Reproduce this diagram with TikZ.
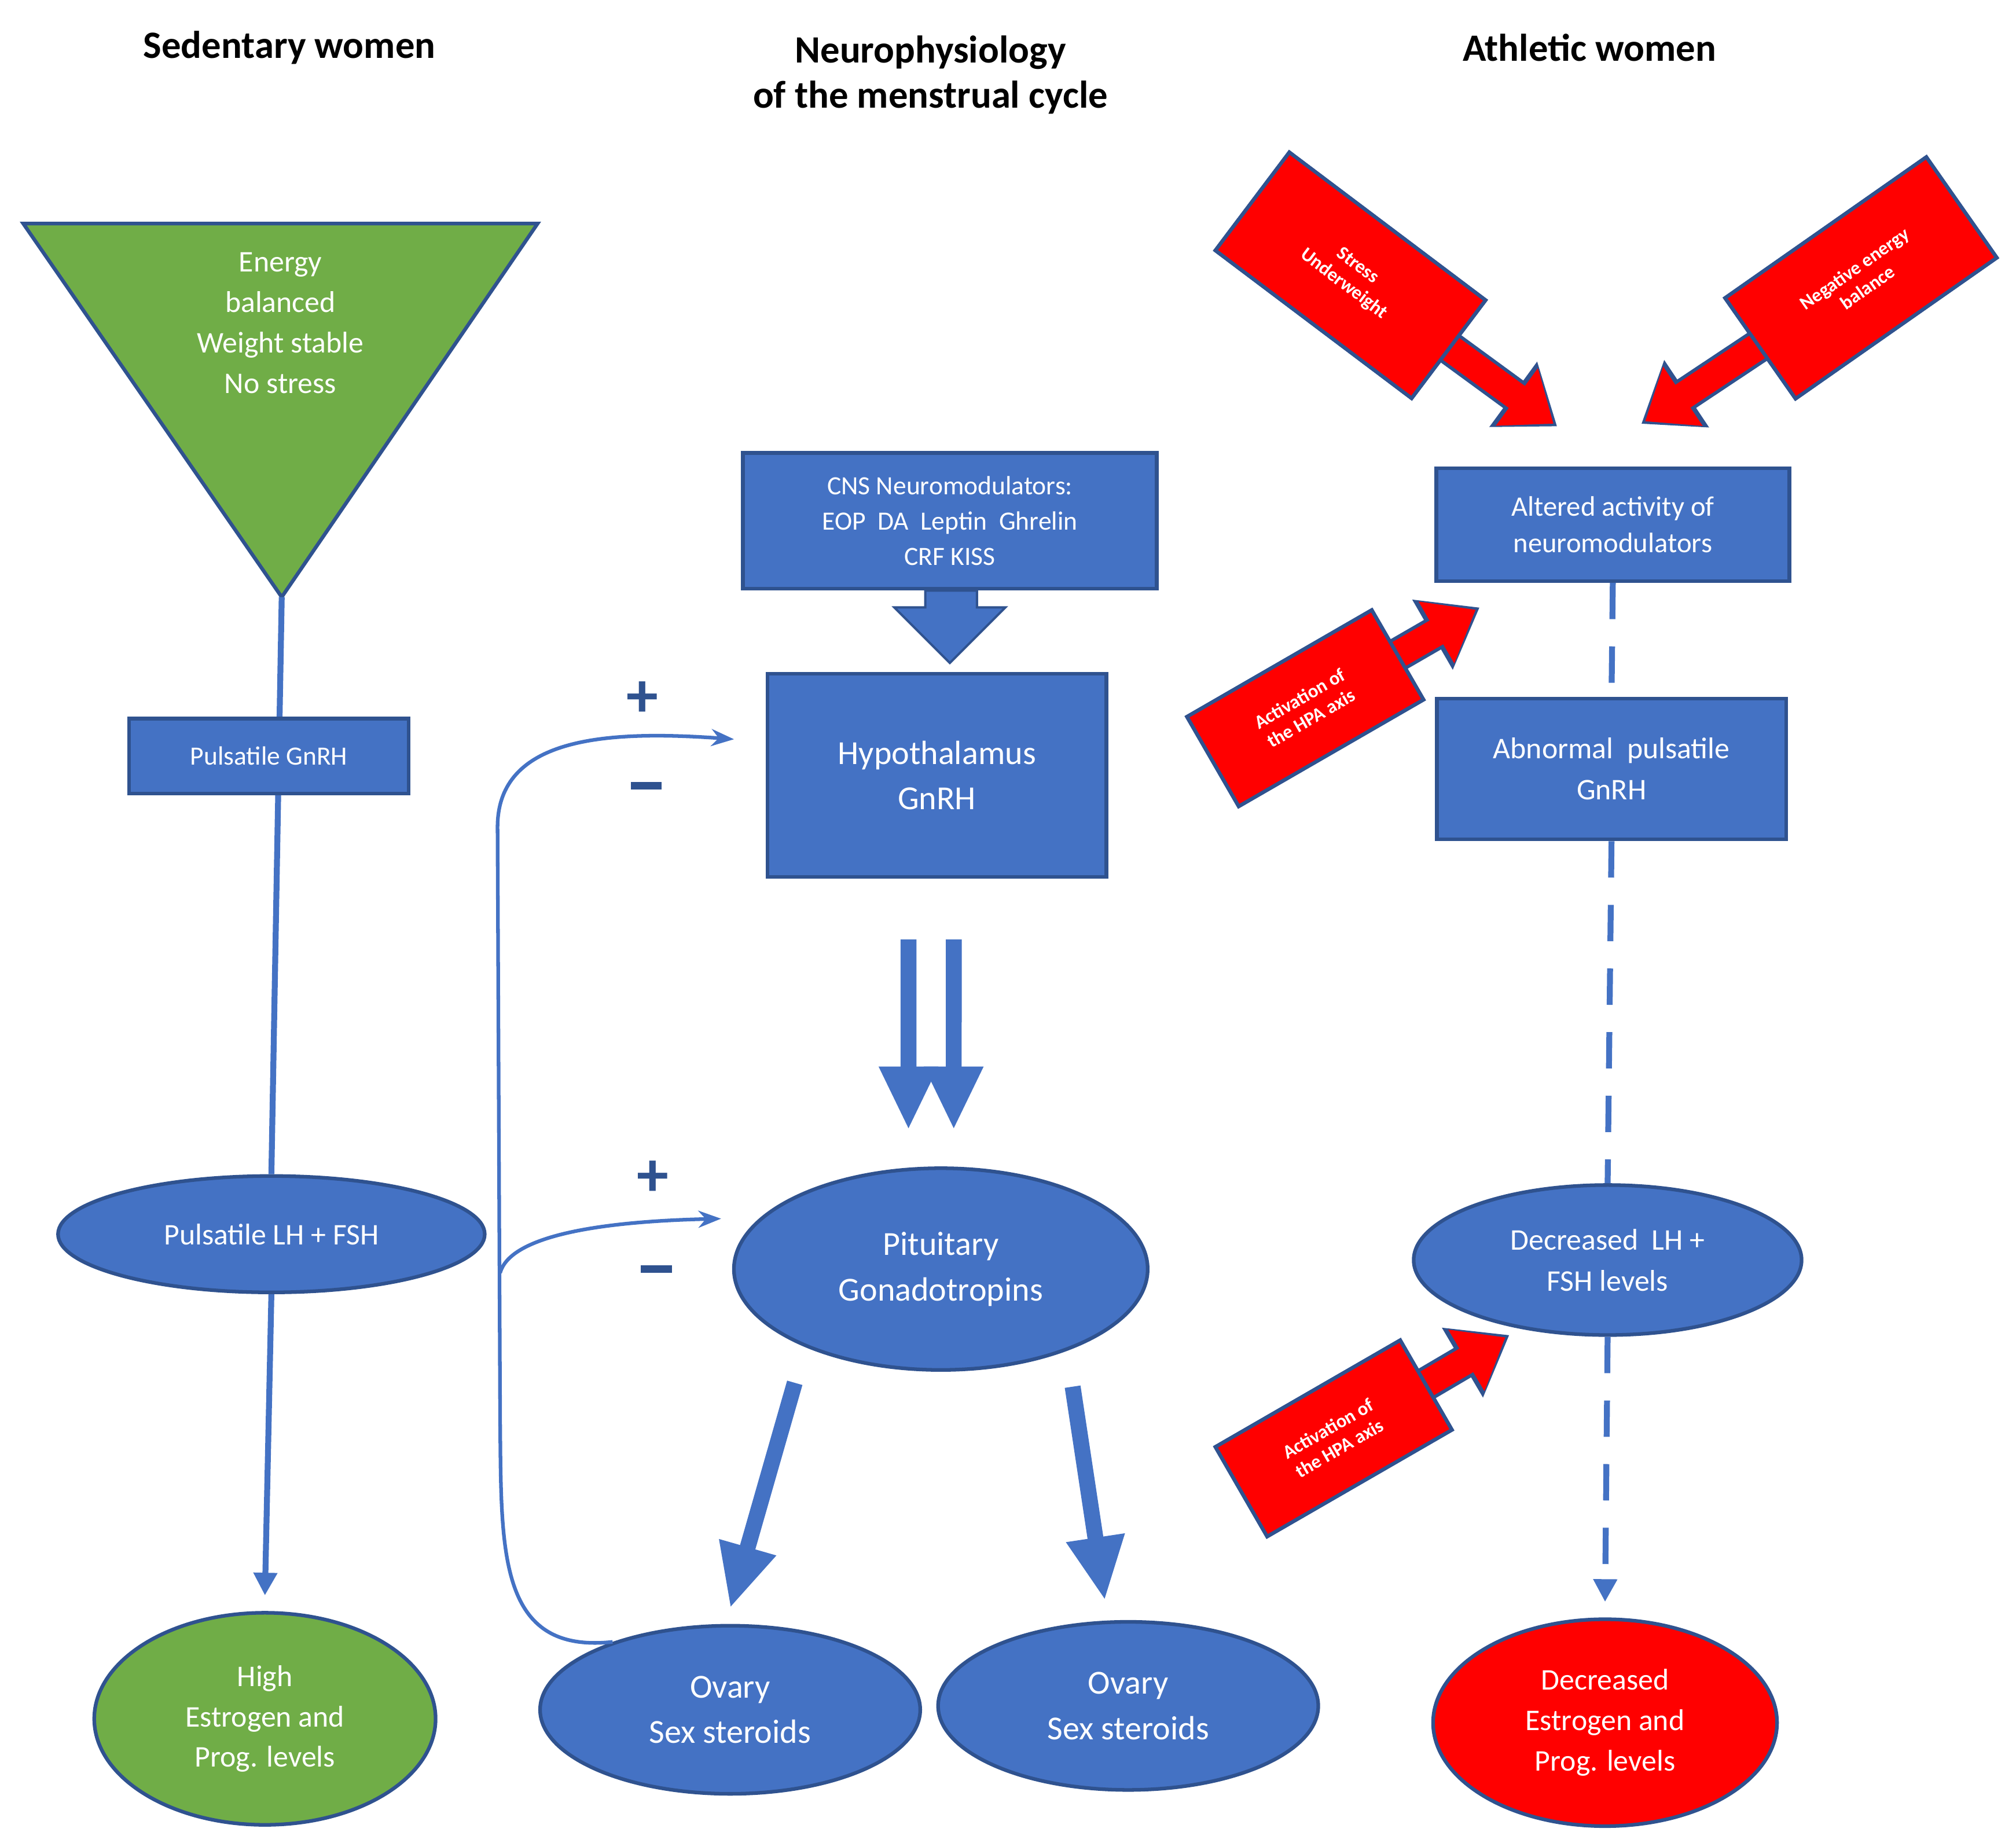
\documentclass[tikz,border=0pt]{standalone}
\usepackage{fontspec}
\setmainfont{Carlito}
\usetikzlibrary{shapes.geometric,arrows.meta}

\definecolor{mblue}{HTML}{4472C4}
\definecolor{dblue}{HTML}{2F528F}
\definecolor{mgreen}{HTML}{70AD47}
\definecolor{mred}{HTML}{FF0000}

\tikzset{
  title/.style = {font=\fontsize{8.5pt}{10pt}\selectfont\bfseries, align=center},
  bbox/.style = {draw=dblue, thick, fill=mblue, text=white, align=center},
  bell/.style = {ellipse, draw=dblue, thick, fill=mblue, text=white, align=center, inner sep=0pt},
  rbox/.style = {draw=dblue, thick, fill=mred, text=white, align=center,
                 font=\fontsize{4.2pt}{5pt}\selectfont\bfseries, minimum width=1.9cm, minimum height=0.95cm},
  hbox/.style = {rbox, minimum width=1.65cm, minimum height=0.8cm},
  flow/.style = {mblue, line width=1.3pt, -{Triangle[length=5pt,width=5pt]}},
  fat/.style = {mblue, line width=3.5pt, -{Triangle[length=14pt,width=12pt]}},
  hot/.style = {draw=dblue, line width=0.5pt, fill=mred}
}

\begin{document}
\begin{tikzpicture}[x=0.01cm, y=-0.01cm]
    \useasboundingbox (0, 0) rectangle (1560, 1429);
    % titles
    \node[title] (tsed) at (224, 37) {Sedentary women};
    \node[title] (tneu) at (720, 58) {Neurophysiology\\of the menstrual cycle};
    \node[title] (tath) at (1230, 37) {Athletic women};

    % sedentary column
    \draw[draw=dblue, thick, fill=mgreen] (18, 173) -- (416, 173) -- (218, 462) -- cycle;
    \coordinate (tri) at (218, 462);
    \node[text=white, align=center, font=\fontsize{6.6pt}{8.9pt}\selectfont] (egy) at (217, 250)
        {Energy\\balanced\\Weight stable\\No stress};
    \node[bell, minimum width=3.3cm, minimum height=0.9cm, font=\fontsize{6.6pt}{8pt}\selectfont] (slh) at (210, 955) {Pulsatile LH + FSH};
    \draw[mblue, line width=1.3pt] (tri) -- (slh.north);
    \node[bbox, minimum width=2.16cm, minimum height=0.58cm, font=\fontsize{5.8pt}{7pt}\selectfont] (sgn) at (208, 585) {Pulsatile GnRH};
    \node[ellipse, draw=dblue, thick, fill=mgreen, text=white, align=center, inner sep=0pt,
          minimum width=2.64cm, minimum height=1.64cm, font=\fontsize{6.6pt}{8.9pt}\selectfont] (shi) at (205, 1330)
        {High\\Estrogen and\\Prog. levels};
    \draw[flow] (slh.south) -- ([yshift=0.12cm]shi.north);

    % middle column
    \node[bbox, minimum width=3.2cm, minimum height=1.05cm, font=\fontsize{5.8pt}{7.8pt}\selectfont] (cns) at (735, 403)
        {CNS Neuromodulators:\\EOP~ DA~ Leptin~ Ghrelin\\CRF KISS};
    \draw[hot, fill=mblue] (716, 457) -- (756, 457) -- (756, 470) -- (778, 470) -- (735, 513)
        -- (692, 470) -- (716, 470) -- cycle;
    \node[bbox, minimum width=2.62cm, minimum height=1.57cm, font=\fontsize{7.4pt}{10pt}\selectfont] (hyp) at (725, 600)
        {Hypothalamus\\GnRH};
    \node[bell, minimum width=3.2cm, minimum height=1.56cm, font=\fontsize{7.4pt}{10pt}\selectfont] (pit) at (728, 982)
        {Pituitary\\Gonadotropins};
    \draw[fat] ([xshift=-0.22cm, yshift=-0.47cm]hyp.south) -- ([xshift=-0.25cm, yshift=0.28cm]pit.north);
    \draw[fat] ([xshift=0.13cm, yshift=-0.47cm]hyp.south) -- ([xshift=0.1cm, yshift=0.28cm]pit.north);
    \node[bell, minimum width=2.94cm, minimum height=1.3cm, font=\fontsize{7.4pt}{10pt}\selectfont] (ov1) at (565, 1323)
        {Ovary\\Sex steroids};
    \node[bell, minimum width=2.94cm, minimum height=1.3cm, font=\fontsize{7.4pt}{10pt}\selectfont] (ov2) at (873, 1320)
        {Ovary\\Sex steroids};
    \draw[fat] (615, 1070) -- ([yshift=0.12cm]ov1.north);
    \draw[fat] (830, 1073) -- ([xshift=-0.18cm, yshift=0.15cm]ov2.north);

    % feedback loop
    \coordinate (fbh) at (568, 572);
    \coordinate (fbp) at (558, 943);
    \draw[mblue, thick, -{Stealth[length=5pt]}] (ov1.150) .. controls (385, 1280) and (388, 1200) .. (387, 1100)
        -- (385, 640) .. controls (385, 570) and (470, 565) .. (fbh);
    \draw[mblue, thick, -{Stealth[length=5pt]}] (387, 985) .. controls (395, 955) and (470, 945) .. (fbp);
    \foreach \x/\y in {497/541, 505/912} {
        \node[dblue, font=\fontsize{14pt}{14pt}\selectfont\bfseries] at (\x, \y) {+};
    }
    \foreach \x/\y in {500/608, 508/982} {
        \fill[dblue] (\x-12, \y-3) rectangle (\x+12, \y+3);
    }

    % athletic column
    \node[bbox, minimum width=2.73cm, minimum height=0.87cm, font=\fontsize{6.2pt}{8pt}\selectfont] (alt) at (1248, 406)
        {Altered activity of\\neuromodulators};
    \node[bbox, minimum width=2.7cm, minimum height=1.09cm, font=\fontsize{6.6pt}{9pt}\selectfont] (abn) at (1247, 595)
        {Abnormal~ pulsatile\\GnRH};
    \node[bell, minimum width=3.0cm, minimum height=1.16cm, font=\fontsize{6.6pt}{9pt}\selectfont] (dec) at (1244, 975)
        {Decreased~ LH +\\FSH levels};
    \node[ellipse, draw=dblue, thick, fill=mred, text=white, align=center, inner sep=0pt,
          minimum width=2.66cm, minimum height=1.6cm, font=\fontsize{6.6pt}{8.9pt}\selectfont] (red) at (1242, 1333)
        {Decreased\\Estrogen and\\Prog. levels};
    \draw[mblue, line width=1.3pt, dash pattern=on 8pt off 6pt] (alt.south) -- (abn.north);
    \draw[mblue, line width=1.3pt, dash pattern=on 8pt off 6pt] (abn.south) -- (dec.north);
    \draw[mblue, line width=1.3pt, dash pattern=on 8pt off 6pt, -{Triangle[length=5pt,width=5pt]}]
        (dec.south) -- ([yshift=0.12cm]red.north);

    % red pressure arrows
    \coordinate (ts) at (1205, 330);
    \coordinate (tn) at (1270, 328);
    \coordinate (th1) at (1145, 470);
    \coordinate (th2) at (1168, 1033);
    \node[rbox, rotate=-37] (str) at (1045, 213) {};
    \node[rbox, rotate=35] (neg) at (1440, 215) {};
    \node[hbox, rotate=30] (hp1) at (1010, 548) {};
    \node[hbox, rotate=30] (hp2) at (1032, 1113) {};
    \foreach \b/\t in {str/ts, neg/tn, hp1/th1, hp2/th2} {
        \draw[dblue, line width=7.5pt, -{Triangle[length=12pt,width=17pt]}] (\b.center) -- (\t);
        \draw[mred, line width=6pt, shorten >=1pt, -{Triangle[length=10pt,width=15pt]}] (\b.center) -- (\t);
    }
    \node[rbox, rotate=-37] at (str) {Stress\\Underweight};
    \node[rbox, rotate=35] at (neg) {Negative energy\\balance};
    \node[hbox, rotate=30] at (hp1) {Activation of\\the HPA axis};
    \node[hbox, rotate=30] at (hp2) {Activation of\\the HPA axis};
\end{tikzpicture}
\end{document}
